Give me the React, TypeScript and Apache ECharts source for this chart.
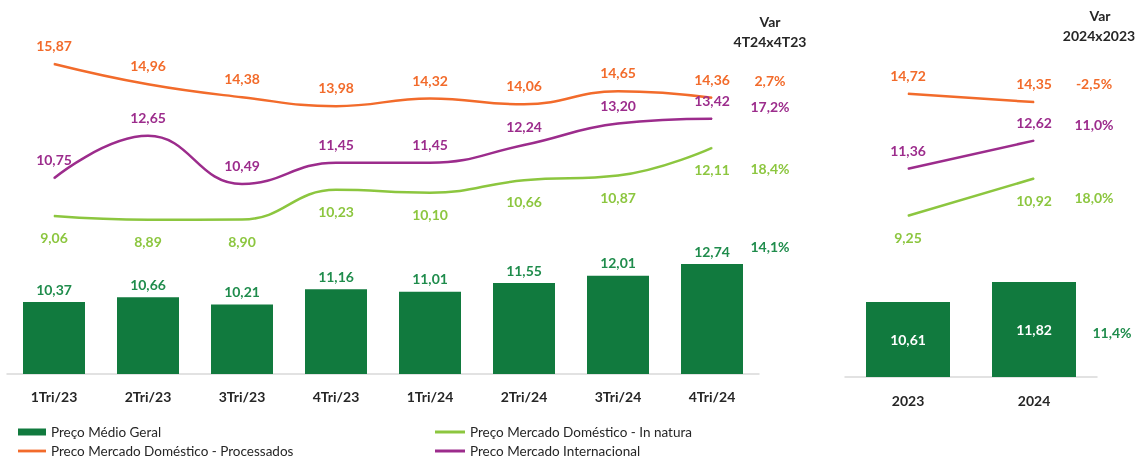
import React, { useEffect, useRef } from "react";
import * as echarts from "echarts";

const quarters = ["1Tri/23", "2Tri/23", "3Tri/23", "4Tri/23", "1Tri/24", "2Tri/24", "3Tri/24", "4Tri/24"];
const years = ["2023", "2024"];

const geralQ = [10.37, 10.66, 10.21, 11.16, 11.01, 11.55, 12.01, 12.74];
const inNaturaQ = [9.06, 8.89, 8.9, 10.23, 10.1, 10.66, 10.87, 12.11];
const processadosQ = [15.87, 14.96, 14.38, 13.98, 14.32, 14.06, 14.65, 14.36];
const internacionalQ = [10.75, 12.65, 10.49, 11.45, 11.45, 12.24, 13.2, 13.42];

const geralY = [10.61, 11.82];
const inNaturaY = [9.25, 10.92];
const processadosY = [14.72, 14.35];
const internacionalY = [11.36, 12.62];

// variation: geral, inNatura, processados, internacional
const varQ = [14.1, 18.4, 2.7, 17.2];
const varY = [11.4, 18.0, -2.5, 11.0];

const NAME_GERAL = "Preço Médio Geral";
const NAME_NATURA = "Preço Mercado Doméstico - In natura";
const NAME_PROC = "Preco Mercado Doméstico - Processados";
const NAME_INT = "Preco Mercado Internacional";

const C_BAR = "#117a3e";
const C_BAR_LABEL = "#1f8c4c";
const C_NATURA = "#8cc63f";
const C_PROC = "#f26b2b";
const C_INT = "#9c2c8c";
const C_TEXT = "#262626";
const FONT = "Lato";

const LINE_ICON = "path://M0,0H30V3H0Z";

const fmt2 = (v: number) => v.toFixed(2).replace(".", ",");
const fmtPct = (v: number) => v.toFixed(1).replace(".", ",") + "%";

function lineSeries(name: string, data: number[], color: string, pos: "top" | "bottom", xi: number, yi: number, smooth: boolean) {
  return {
    type: "line",
    name,
    data,
    xAxisIndex: xi,
    yAxisIndex: yi,
    smooth: smooth ? 0.45 : false,
    symbol: "circle",
    symbolSize: 1,
    showSymbol: true,
    lineStyle: { color, width: 2.5 },
    itemStyle: { color },
    label: {
      show: true,
      position: pos,
      distance: pos === "top" ? 11 : 14,
      color,
      fontFamily: FONT,
      fontWeight: "bold",
      fontSize: 14,
      formatter: (p: any) => fmt2(p.value),
    },
  };
}

export default function App() {
  const ref = useRef<HTMLDivElement>(null);
  useEffect(() => {
    if (!ref.current) return;
    const chart = echarts.init(ref.current, null, { renderer: "svg" });
    const axisCommon = {
      type: "category",
      axisLine: { show: true, lineStyle: { color: "#d9d9d9", width: 1.5 } },
      axisTick: { show: false },
      axisLabel: { color: C_TEXT, fontFamily: FONT, fontWeight: "bold", fontSize: 14 },
      splitLine: { show: false },
    };
    const hiddenY = (gridIndex: number, min: number, max: number) => ({
      type: "value",
      gridIndex,
      min,
      max,
      show: false,
      splitLine: { show: false },
    });
    const legendCommon = {
      top: 425,
      height: 40,
      padding: 0,
      orient: "vertical",
      itemHeight: 7,
      itemGap: 5,
      symbolKeepAspect: true,
      selectedMode: false,
      textStyle: { color: C_TEXT, fontFamily: FONT, fontSize: 13.5, lineHeight: 14 },
    };
    const option: any = {
      animation: false,
      textStyle: { fontFamily: FONT },
      grid: [
        { left: 7, right: 378, top: 20, bottom: 85 },
        { left: 845, right: 40, top: 20, bottom: 82 },
      ],
      xAxis: [
        { ...axisCommon, gridIndex: 0, data: quarters, axisLabel: { ...axisCommon.axisLabel, margin: 15 } },
        { ...axisCommon, gridIndex: 1, data: years, axisLabel: { ...axisCommon.axisLabel, margin: 16 } },
      ],
      yAxis: [
        hiddenY(0, 5.88, 27.96),
        hiddenY(0, 1.98, 17.84),
        hiddenY(1, 6.06, 27.7),
        hiddenY(1, 2.02, 18.03),
      ],
      legend: [
        {
          ...legendCommon,
          id: "lg1",
          left: 18,
          itemWidth: 28,
          data: [
            { name: NAME_GERAL, icon: "rect" },
            { name: NAME_PROC, icon: LINE_ICON },
          ],
        },
        {
          ...legendCommon,
          id: "lg2",
          left: 435,
          itemWidth: 30,
          data: [
            { name: NAME_NATURA, icon: LINE_ICON },
            { name: NAME_INT, icon: LINE_ICON },
          ],
        },
      ],
      series: [
        {
          type: "bar",
          name: NAME_GERAL,
          data: geralQ,
          xAxisIndex: 0,
          yAxisIndex: 0,
          barWidth: 62,
          itemStyle: { color: C_BAR },
          label: {
            show: true,
            position: "top",
            distance: 6,
            color: C_BAR_LABEL,
            fontFamily: FONT,
            fontWeight: "bold",
            fontSize: 14,
            formatter: (p: any) => fmt2(p.value),
          },
        },
        lineSeries(NAME_NATURA, inNaturaQ, C_NATURA, "bottom", 0, 1, true),
        lineSeries(NAME_PROC, processadosQ, C_PROC, "top", 0, 1, true),
        lineSeries(NAME_INT, internacionalQ, C_INT, "top", 0, 1, true),
        {
          type: "bar",
          name: NAME_GERAL,
          data: geralY,
          xAxisIndex: 1,
          yAxisIndex: 2,
          barWidth: 84,
          itemStyle: { color: C_BAR },
          label: {
            show: true,
            position: "inside",
            color: "#ffffff",
            fontFamily: FONT,
            fontWeight: "bold",
            fontSize: 14,
            formatter: (p: any) => fmt2(p.value),
          },
        },
        lineSeries(NAME_NATURA, inNaturaY, C_NATURA, "bottom", 1, 3, false),
        lineSeries(NAME_PROC, processadosY, C_PROC, "top", 1, 3, false),
        lineSeries(NAME_INT, internacionalY, C_INT, "top", 1, 3, false),
      ],
    };
    chart.setOption(option);

    const txt = (text: string, x: number, y: number, fill: string) => ({
      type: "text",
      x,
      y,
      silent: true,
      style: {
        text,
        fill,
        font: `bold 14px ${FONT}`,
        textAlign: "center",
        align: "center",
        textVerticalAlign: "middle",
        verticalAlign: "middle",
      },
    });

    const lastQ = quarters.length - 1;
    const lastY = years.length - 1;
    const xQ = (chart.convertToPixel({ xAxisIndex: 0 }, quarters[lastQ]) as number) + 58;
    const xY = (chart.convertToPixel({ xAxisIndex: 1 }, years[lastY]) as number) + 60;
    const yL = (yi: number, v: number) => chart.convertToPixel({ yAxisIndex: yi }, v) as number;

    const graphic: any[] = [
      txt("Var", xQ, 21, C_TEXT),
      txt("4T24x4T23", xQ, 41, C_TEXT),
      txt("Var", xY + 6, 15, C_TEXT),
      txt("2024x2023", xY + 5, 35, C_TEXT),
      txt(fmtPct(varQ[0]), xQ, yL(0, geralQ[lastQ]) - 18, C_BAR_LABEL),
      txt(fmtPct(varQ[1]), xQ, yL(1, inNaturaQ[lastQ]) + 21, C_NATURA),
      txt(fmtPct(varQ[2]), xQ, yL(1, processadosQ[lastQ]) - 17, C_PROC),
      txt(fmtPct(varQ[3]), xQ, yL(1, internacionalQ[lastQ]) - 12, C_INT),
      txt(fmtPct(varY[0]), xY + 18, (yL(2, geralY[lastY]) + yL(2, 6.06)) / 2 + 3, C_BAR_LABEL),
      txt(fmtPct(varY[1]), xY, yL(3, inNaturaY[lastY]) + 19, C_NATURA),
      txt(fmtPct(varY[2]), xY, yL(3, processadosY[lastY]) - 19, C_PROC),
      txt(fmtPct(varY[3]), xY, yL(3, internacionalY[lastY]) - 16, C_INT),
    ];
    chart.setOption({ graphic });

    return () => chart.dispose();
  }, []);
  return <div ref={ref} style={{ position: "fixed", left: 0, top: 0, width: 1137, height: 459 }} />;
}
